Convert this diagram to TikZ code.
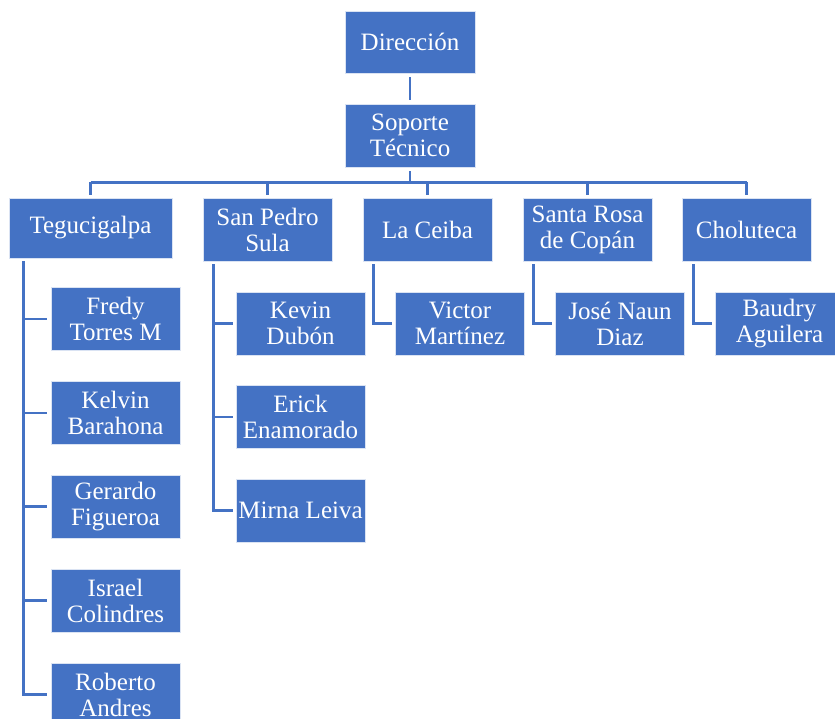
\documentclass[tikz,border=0pt]{standalone}
\usepackage{fontspec}
\setmainfont{Liberation Serif}
\usetikzlibrary{calc}
\definecolor{blu}{HTML}{4472C4}
\tikzset{
  box/.style={fill=blu, draw=white!80!blu, line width=0.8pt, text=white, inner sep=0pt,
    align=center, minimum width=129pt, minimum height=63pt,
    font=\fontsize{25}{26}\selectfont},
  conn/.style={draw=blu, line width=2.7pt}
}
\begin{document}
\begin{tikzpicture}[x=1pt,y=-1pt]
\useasboundingbox (0,0) rectangle (835,719);
\node[box, minimum width=130pt, minimum height=62pt] (dir) at (410,42) {Dirección};
\node[box, minimum width=130pt] (sop) at (410,135.5) {Soporte\\Técnico};
\node[box, minimum width=163pt, minimum height=60pt] (teg) at (90.5,228) {Tegucigalpa};
\node[box] (sps) at (267.5,229.5) {San Pedro\\Sula};
\node[box] (lac) at (427.5,229.5) {La Ceiba};
\node[box] (srd) at (587.5,229.5) {Santa Rosa\\de Copán};
\node[box] (cho) at (746.5,229.5) {Choluteca};
% Tegucigalpa
\node[box] (fre) at (115.5,319) {Fredy\\Torres M};
\node[box] (kel) at (115.5,413) {Kelvin\\Barahona};
\node[box] (ger) at (115.5,506.5) {Gerardo\\Figueroa};
\node[box] (isr) at (115.5,600.5) {Israel\\Colindres};
\node[box] (rob) at (115.5,694.5) {Roberto\\Andres};
% San Pedro Sula
\node[box] (kev) at (300.5,323.5) {Kevin\\Dubón};
\node[box] (eri) at (300.5,417) {Erick\\Enamorado};
\node[box] (mir) at (300.5,510.5) {Mirna Leiva};
% others
\node[box] (vic) at (460,323.5) {Victor\\Martínez};
\node[box] (jos) at (620,323.5) {José Naun\\Diaz};
\node[box] (bau) at (779.5,323.5) {Baudry\\Aguilera};
% connectors top
\draw[conn] ([yshift=-4pt]dir.south) -- ([yshift=4pt]sop.north);
\coordinate (bus) at ([yshift=-15pt]sop.south);
\draw[conn] ([yshift=-4pt]sop.south) -- (bus);
\draw[conn] (bus -| teg.north) -- (bus -| cho.north);
\foreach \n in {teg,sps,lac,srd,cho}
  \draw[conn] (bus -| \n.north) -- ([yshift=3pt]\n.north);
% Tegucigalpa children
\coordinate (tx) at ([xshift=15pt,yshift=-3pt]teg.south west);
\draw[conn] (tx) |- ([xshift=-4pt]rob.west);
\foreach \c in {fre,kel,ger,isr}
  \draw[conn] (tx |- \c.west) -- ([xshift=-4pt]\c.west);
% San Pedro Sula children
\coordinate (sx) at ([xshift=11pt,yshift=-3pt]sps.south west);
\draw[conn] (sx) |- ([xshift=-3pt]mir.west);
\foreach \c in {kev,eri}
  \draw[conn] (sx |- \c.west) -- ([xshift=-3pt]\c.west);
% single children
\draw[conn] ([xshift=11pt,yshift=-3pt]lac.south west) |- ([xshift=-3pt]vic.west);
\draw[conn] ([xshift=11pt,yshift=-3pt]srd.south west) |- ([xshift=-3pt]jos.west);
\draw[conn] ([xshift=12pt,yshift=-3pt]cho.south west) |- ([xshift=-3pt]bau.west);
\end{tikzpicture}
\end{document}
